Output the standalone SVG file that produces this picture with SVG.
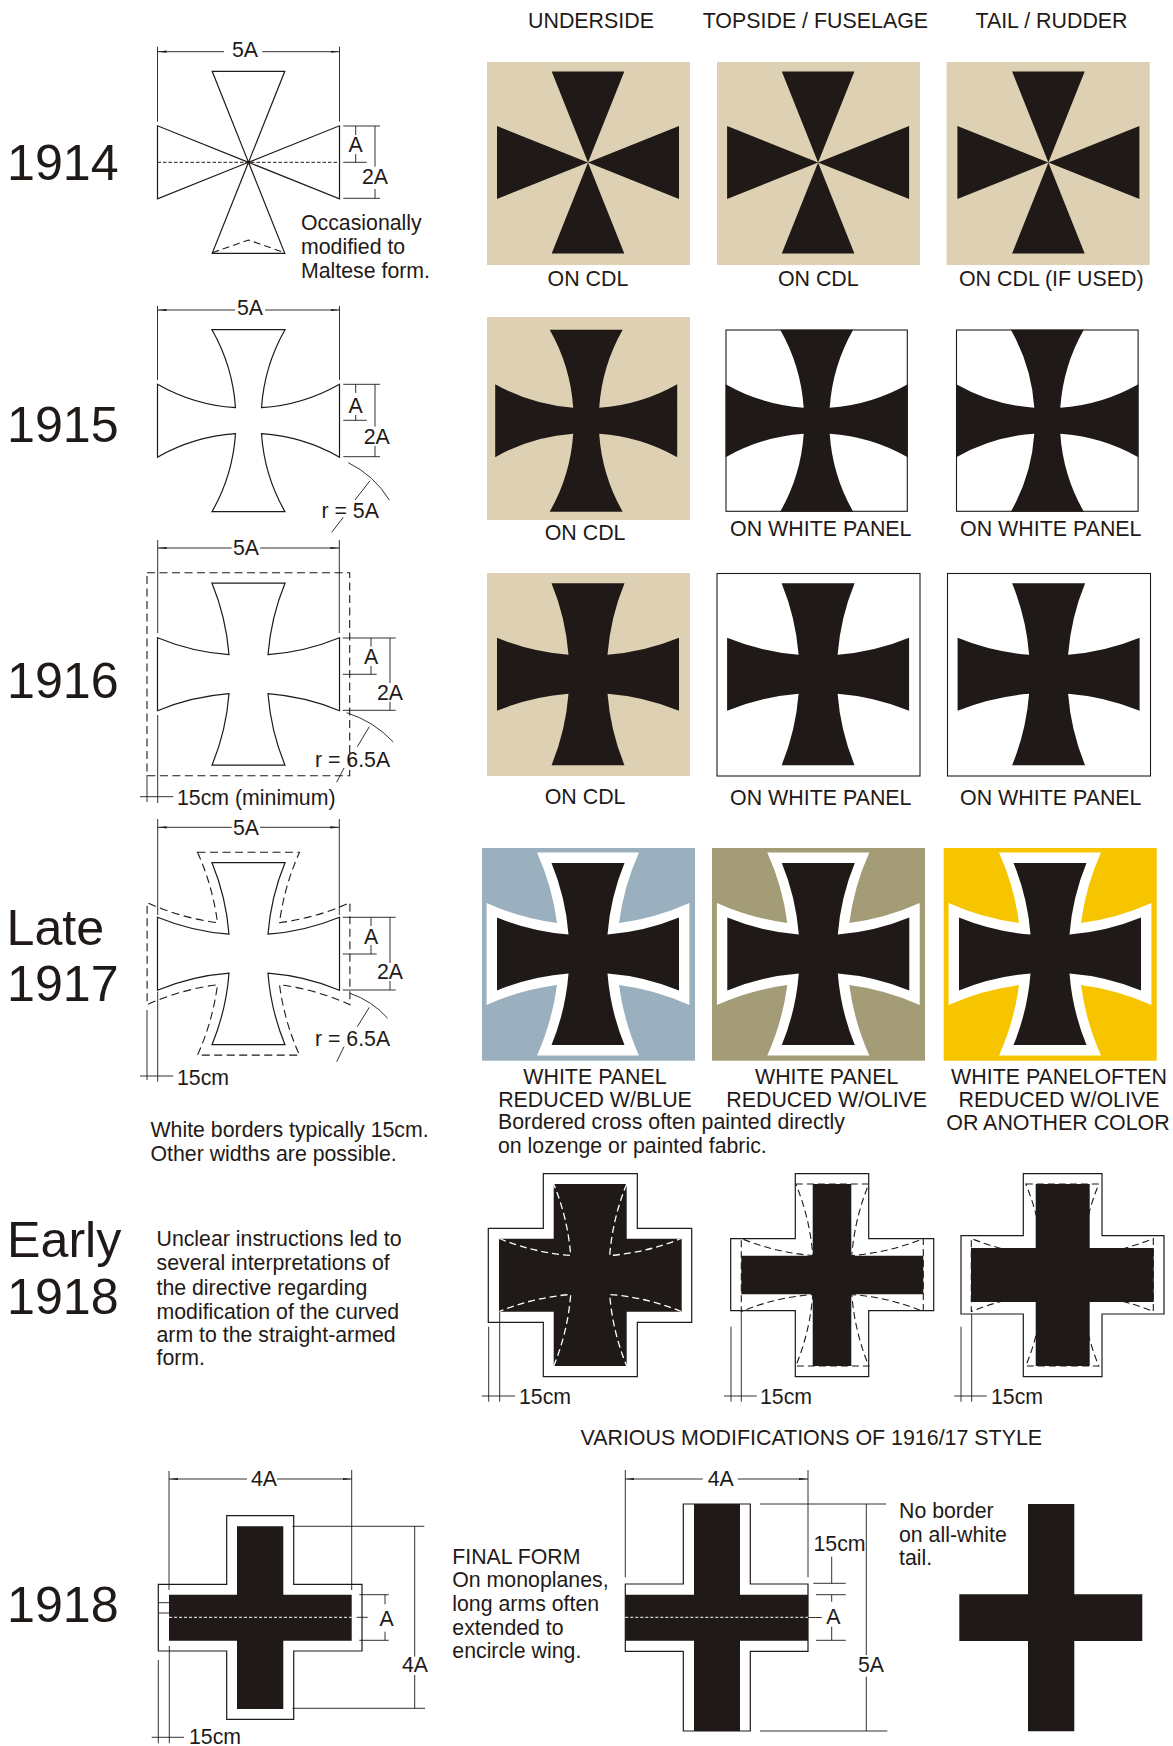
<svg xmlns="http://www.w3.org/2000/svg" width="1173" height="1746" viewBox="0 0 1173 1746">
<style>
text{font-family:"Liberation Sans",Arial,sans-serif;font-size:21.3px;fill:#1F1A17}
.yr{font-size:50.2px}
.cap{font-size:21.4px}
.m{text-anchor:middle}
.out{fill:#fff;stroke:#1F1A17;stroke-width:1.2}
.blk{fill:#1F1A17}
.wht{fill:#fff}
.dim{fill:none;stroke:#1F1A17;stroke-width:.9}
.dash{fill:none;stroke:#1F1A17;stroke-width:1.1;stroke-dasharray:8 4.5}
.fine{fill:none;stroke:#1F1A17;stroke-width:1;stroke-dasharray:3.5 2}
.wd{fill:none;stroke:#fff;stroke-width:1.3;stroke-dasharray:7 4}
.wf{fill:none;stroke:#fff;stroke-width:1;stroke-dasharray:3 2}
.tan{fill:#DDD0B3}
.pan{fill:#fff;stroke:#1F1A17;stroke-width:1.1}
</style>
<defs>
<marker id="tip" markerUnits="userSpaceOnUse" markerWidth="10" markerHeight="4" refX="9" refY="2" orient="auto-start-reverse"><path d="M0,.9L9,2L0,3.1Z" fill="#1F1A17"/></marker>
<path id="c14" d="M-36.3,-91H36.3L0,0L91,-36.5V36.5L0,0L36.3,91H-36.3L0,0L-91,36.5V-36.5L0,0Z"/>
<path id="c15" d="M-36.5,-91H36.5A182,182 0 0 0 13,-13A182,182 0 0 0 91,-36.5V36.5A182,182 0 0 0 13,13A182,182 0 0 0 36.5,91H-36.5A182,182 0 0 0 -13,13A182,182 0 0 0 -91,36.5V-36.5A182,182 0 0 0 -13,-13A182,182 0 0 0 -36.5,-91Z"/>
<path id="c16" d="M-36.5,-91H36.5A236,236 0 0 0 19.5,-19.5A236,236 0 0 0 91,-36.5V36.5A236,236 0 0 0 19.5,19.5A236,236 0 0 0 36.5,91H-36.5A236,236 0 0 0 -19.5,19.5A236,236 0 0 0 -91,36.5V-36.5A236,236 0 0 0 -19.5,-19.5A236,236 0 0 0 -36.5,-91Z"/>
<path id="c16a" d="M36.5,-91A236,236 0 0 0 19.5,-19.5A236,236 0 0 0 91,-36.5M91,36.5A236,236 0 0 0 19.5,19.5A236,236 0 0 0 36.5,91M-36.5,91A236,236 0 0 0 -19.5,19.5A236,236 0 0 0 -91,36.5M-91,-36.5A236,236 0 0 0 -19.5,-19.5A236,236 0 0 0 -36.5,-91"/>
<path id="c17" d="M-51,-101.4H51A250,250 0 0 0 31,-31A250,250 0 0 0 101.4,-51V51A250,250 0 0 0 31,31A250,250 0 0 0 51,101.4H-51A250,250 0 0 0 -31,31A250,250 0 0 0 -101.4,51V-51A250,250 0 0 0 -31,-31A250,250 0 0 0 -51,-101.4Z"/>
</defs>
<rect width="1173" height="1746" fill="#fff"/>

<g id="headers">
<text class="cap m" x="591" y="28">UNDERSIDE</text>
<text class="cap m" x="815.4" y="28">TOPSIDE / FUSELAGE</text>
<text class="cap m" x="1051.5" y="28">TAIL / RUDDER</text>
</g>

<g id="row-1914">
<text class="yr" x="7" y="180">1914</text>
<use href="#c14" x="248.5" y="162.3" class="out"/>
<path class="fine" d="M157.5,162.3H339.5"/>
<path class="dash" style="stroke-dasharray:7 4" d="M212.3,252.7L248.5,240L284.7,252.7"/>
<g class="dim">
<path d="M157.5,46.7V121.7M339.5,46.7V121.7"/>
<path d="M157.5,51.7H224" marker-start="url(#tip)"/>
<path d="M262.3,51.7H339.5" marker-end="url(#tip)"/>
<path d="M343.3,126H380M343.3,162.3H366.7M343.3,198.3H380M355.7,126V135M355.7,154V162.3M375,126V166.7M375,189V198.3"/>
</g>
<text class="m" x="245" y="56.7">5A</text>
<text class="m" x="355.7" y="152.3">A</text>
<text class="m" x="375" y="184">2A</text>
<text x="301" y="230">Occasionally</text>
<text x="301" y="254">modified to</text>
<text x="301" y="278">Maltese form.</text>
<rect class="tan" x="487" y="62" width="203" height="203"/>
<rect class="tan" x="717" y="62" width="203" height="203"/>
<rect class="tan" x="946.7" y="62" width="203" height="203"/>
<use href="#c14" x="588" y="162.5" class="blk"/>
<use href="#c14" x="818.1" y="162.5" class="blk"/>
<use href="#c14" x="1048.4" y="162.5" class="blk"/>
<text class="cap m" x="588" y="286">ON CDL</text>
<text class="cap m" x="818.3" y="286">ON CDL</text>
<text class="cap m" x="1051.3" y="286">ON CDL (IF USED)</text>
</g>

<g id="row-1915">
<text class="yr" x="7" y="441.7">1915</text>
<use href="#c15" x="248.5" y="420.7" class="out"/>
<g class="dim">
<path d="M157.5,306V380M339.5,306V380"/>
<path d="M157.5,310H235" marker-start="url(#tip)"/>
<path d="M265,310H339.5" marker-end="url(#tip)"/>
<path d="M343.3,384.3H380M343.3,420.3H366.7M343.3,456.7H380M355.7,384.3V393M355.7,415V420.3M375,384.3V426.7M375,446V456.7"/>
<path d="M348.3,462.7A100,100 0 0 1 389.3,500M370,480.7L355,500M343.3,517.3L331.7,532.3"/>
</g>
<text class="m" x="250" y="315">5A</text>
<text class="m" x="355.7" y="412.7">A</text>
<text class="m" x="376.7" y="443.5">2A</text>
<text x="321.5" y="518">r = 5A</text>
<rect class="tan" x="487" y="317" width="203" height="203"/>
<use href="#c15" x="586.2" y="420.7" class="blk"/>
<rect class="pan" x="726" y="330" width="181.3" height="181.3"/>
<rect class="pan" x="956.5" y="330" width="181.6" height="181.3"/>
<use href="#c15" x="816.7" y="420.7" class="blk"/>
<use href="#c15" x="1047.3" y="420.7" class="blk"/>
<text class="cap m" x="585.1" y="540">ON CDL</text>
<text class="cap m" x="820.8" y="536">ON WHITE PANEL</text>
<text class="cap m" x="1050.8" y="536">ON WHITE PANEL</text>
</g>

<g id="row-1916">
<text class="yr" x="7" y="698">1916</text>
<rect class="dash" x="147" y="572.7" width="202.7" height="203"/>
<use href="#c16" x="248.5" y="674.2" class="out"/>
<g class="dim">
<path d="M157.7,540V633M339.3,540V633M157.7,715V803M147,775V802"/>
<path d="M157.7,548H231.7" marker-start="url(#tip)"/>
<path d="M260,548H339.3" marker-end="url(#tip)"/>
<path d="M140,796.7H173.3"/>
<path d="M342.7,638H395.7M342.7,674.3H376.7M342.7,710.3H395.7M371,638V646.7M371,666V674.3M390,638V683M390,701.7V710.3"/>
<path d="M346.7,712.7A110,110 0 0 1 393.3,742M369.3,726.7L357.3,746.7M344,768L336.7,782.3"/>
</g>
<text class="m" x="246" y="554.8">5A</text>
<text class="m" x="371" y="664">A</text>
<text class="m" x="390" y="699.5">2A</text>
<text x="315" y="767">r = 6.5A</text>
<text x="177" y="805">15cm (minimum)</text>
<rect class="tan" x="487" y="573" width="203" height="203"/>
<rect class="pan" x="717" y="573.5" width="203" height="202.5"/>
<rect class="pan" x="947.5" y="573.5" width="203" height="202.5"/>
<use href="#c16" x="588" y="674.3" class="blk"/>
<use href="#c16" x="818.1" y="674.3" class="blk"/>
<use href="#c16" x="1048.6" y="674.3" class="blk"/>
<text class="cap m" x="585.1" y="804">ON CDL</text>
<text class="cap m" x="820.8" y="805">ON WHITE PANEL</text>
<text class="cap m" x="1050.8" y="805">ON WHITE PANEL</text>
</g>

<g id="row-late-1917">
<text class="yr" x="6.5" y="944.8">Late</text>
<text class="yr" x="7" y="1000.8">1917</text>
<use href="#c17" x="248.5" y="953.7" class="dash"/>
<use href="#c16" x="248.5" y="953.7" class="out"/>
<g class="dim">
<path d="M157.7,819V915M339.3,819V915M157.7,991.7V1081.7M147,1010V1080"/>
<path d="M157.7,827.3H231.7" marker-start="url(#tip)"/>
<path d="M260,827.3H339.3" marker-end="url(#tip)"/>
<path d="M140,1076H173.3"/>
<path d="M342.7,917.3H395.7M342.7,954H376.7M342.7,990H395.7M371,917.3V926M371,945V954M390,917.3V963M390,981V990"/>
<path d="M350,993.3A90,90 0 0 1 387.7,1018.3M369.3,1007.3L357.3,1026.7M344,1046.7L336.7,1061.7"/>
</g>
<text class="m" x="246" y="834.5">5A</text>
<text class="m" x="371" y="944">A</text>
<text class="m" x="390" y="979">2A</text>
<text x="315" y="1046">r = 6.5A</text>
<text x="177" y="1084.8">15cm</text>
<text x="150.5" y="1137.2">White borders typically 15cm.</text>
<text x="150.5" y="1160.6">Other widths are possible.</text>
<rect x="482" y="848" width="213" height="212.7" fill="#9AB0BF"/>
<rect x="712" y="848" width="213" height="212.7" fill="#A49C77"/>
<rect x="943.7" y="848" width="213" height="212.7" fill="#F7C500"/>
<use href="#c17" x="588" y="954" class="wht"/>
<use href="#c17" x="818.3" y="954" class="wht"/>
<use href="#c17" x="1050" y="954" class="wht"/>
<use href="#c16" x="588" y="954" class="blk"/>
<use href="#c16" x="818.3" y="954" class="blk"/>
<use href="#c16" x="1050" y="954" class="blk"/>
<text class="cap m" x="595" y="1084">WHITE PANEL</text>
<text class="cap m" x="595" y="1107">REDUCED W/BLUE</text>
<text class="cap m" x="826.7" y="1084">WHITE PANEL</text>
<text class="cap m" x="826.7" y="1107">REDUCED W/OLIVE</text>
<text class="cap m" x="1059" y="1084">WHITE PANELOFTEN</text>
<text class="cap m" x="1059" y="1107">REDUCED W/OLIVE</text>
<text class="cap m" x="1058" y="1130">OR ANOTHER COLOR</text>
<text x="498" y="1129">Bordered cross often painted directly</text>
<text x="498" y="1153">on lozenge or painted fabric.</text>
</g>

<g id="row-early-1918">
<text class="yr" x="7" y="1257">Early</text>
<text class="yr" x="7" y="1314">1918</text>
<text x="156.5" y="1246">Unclear instructions led to</text>
<text x="156.5" y="1270">several interpretations of</text>
<text x="156.5" y="1294.5">the directive regarding</text>
<text x="156.5" y="1318.5">modification of the curved</text>
<text x="156.5" y="1341.8">arm to the straight-armed</text>
<text x="156.5" y="1365">form.</text>
<path class="out" d="M543.3,1173.7H637.3V1228.3H691.7V1322.3H637.3V1376.7H543.3V1322.3H488.3V1228.3H543.3Z"/>
<path class="blk" d="M553.7,1184H626.7V1238.7H681.7V1311.7H626.7V1366H553.7V1311.7H499V1238.7H553.7Z"/>
<use href="#c16a" x="590.2" y="1275" class="wd"/>
<g class="dim">
<path d="M488.7,1326.7V1401.7M499.7,1311.7V1401.7M481.7,1396H515"/>
</g>
<text x="519" y="1404">15cm</text>
<path class="out" d="M795.3,1173.7H868.7V1238.7H933.7V1310.7H868.7V1376.7H795.3V1310.7H730.7V1238.7H795.3Z"/>
<use href="#c16" x="832.3" y="1275" class="dash" style="stroke-dasharray:7 4"/>
<path class="blk" d="M812.7,1184H851.3V1255.7H923.3V1294.3H851.3V1366H812.7V1294.3H741.3V1255.7H812.7Z"/>
<g class="dim">
<path d="M731,1326.7V1401.7M741.3,1310.7V1401.7M724,1396H756.7"/>
</g>
<text x="760" y="1404">15cm</text>
<path class="out" d="M1023.3,1173.7H1102V1235.7H1164V1314H1102V1376.7H1023.3V1314H961V1235.7H1023.3Z"/>
<use href="#c16" x="1062.3" y="1275" class="dash" style="stroke-dasharray:7 4"/>
<path class="blk" d="M1035.7,1184H1089.7V1248H1153.7V1302H1089.7V1366H1035.7V1302H971V1248H1035.7Z"/>
<g class="dim">
<path d="M961,1326.7V1401.7M971.7,1314V1401.7M954.3,1396H986.7"/>
</g>
<text x="991" y="1404">15cm</text>
<text class="cap m" x="811.3" y="1445">VARIOUS MODIFICATIONS OF 1916/17 STYLE</text>
</g>

<g id="row-1918">
<text class="yr" x="7" y="1622">1918</text>
<path class="out" d="M226.7,1515.7H293.7V1584.3H362V1651H293.7V1719.3H226.7V1651H158.3V1584.3H226.7Z"/>
<path class="blk" d="M237,1526.3H283.3V1594.7H351.7V1640.7H283.3V1709H237V1640.7H169V1594.7H237Z"/>
<path class="wf" d="M169,1617.3H351.7"/>
<g class="dim">
<path d="M158.3,1602.7H169M158.3,1613H169"/>
<path d="M169,1471V1590M351.7,1470V1590"/>
<path d="M169,1479H247" marker-start="url(#tip)"/>
<path d="M277,1479H351.7" marker-end="url(#tip)"/>
<path d="M292.3,1526.3H424.3M292.3,1708.3H425M414.7,1526.3V1656.7M414.7,1675V1708.3"/>
<path d="M359.3,1594.7H388.7M359.3,1640.3H388.7M356.7,1617.3H367.7M385,1594.7V1604.3M385,1631.7V1640.3"/>
<path d="M158.3,1660V1743.3M169.3,1646V1743.3M151.7,1737.3H184"/>
</g>
<text class="m" x="264" y="1485.7">4A</text>
<text class="m" x="415" y="1671.7">4A</text>
<text class="m" x="386.7" y="1625.7">A</text>
<text x="189" y="1744">15cm</text>
<text x="452.3" y="1563.5">FINAL FORM</text>
<text x="452.3" y="1587">On monoplanes,</text>
<text x="452.3" y="1610.5">long arms often</text>
<text x="452.3" y="1634.5">extended to</text>
<text x="452.3" y="1658">encircle wing.</text>
<path class="out" d="M683.3,1504H750.3V1584H808V1651.3H750.3V1731H683.3V1651.3H625.3V1584H683.3Z"/>
<path class="blk" d="M694,1504H740V1594.7H808V1640.7H740V1731H694V1640.7H625.3V1594.7H694Z"/>
<path class="wf" d="M625.3,1617.3H808"/>
<g class="dim">
<path d="M625.3,1470V1577.3M808,1470V1577.3"/>
<path d="M625.3,1479H702.7" marker-start="url(#tip)"/>
<path d="M737.7,1479H808" marker-end="url(#tip)"/>
<path d="M760,1504H886M760,1731H887.3M866.3,1504V1655M866.3,1676.7V1731"/>
<path d="M831.7,1556.7V1583.3M831.7,1595V1601.7M831.7,1626.7V1640.3M813.3,1583.3H845.7M816,1594.7H845.7M816,1640.3H845.7M808,1617.5H821.7"/>
</g>
<text class="m" x="720.7" y="1485.7">4A</text>
<text x="813.5" y="1551">15cm</text>
<text class="m" x="833.3" y="1624">A</text>
<text class="m" x="871" y="1671.7">5A</text>
<text x="899" y="1517.7">No border</text>
<text x="899" y="1541.7">on all-white</text>
<text x="899" y="1565.3">tail.</text>
<path class="blk" d="M1028,1504H1074.3V1594.3H1142.3V1641H1074.3V1731.3H1028V1641H959.3V1594.3H1028Z"/>
</g>
</svg>
